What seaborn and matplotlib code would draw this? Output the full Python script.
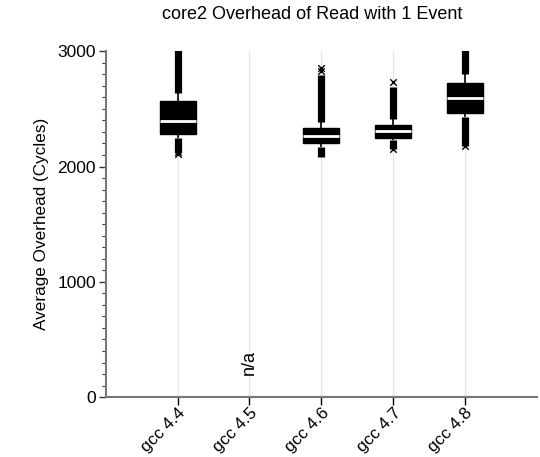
import matplotlib
matplotlib.use("Agg")
import matplotlib.pyplot as plt
import seaborn as sns
import pandas as pd
from matplotlib.ticker import MultipleLocator

categories = ["gcc 4.4", "gcc 4.5", "gcc 4.6", "gcc 4.7", "gcc 4.8"]
# box statistics per compiler (gcc 4.5 has no data -> n/a)
box_cats = ["gcc 4.4", "gcc 4.6", "gcc 4.7", "gcc 4.8"]
whisker_low = [2245, 2170, 2228, 2430]
q1 = [2280, 2203, 2245, 2464]
median = [2392, 2262, 2310, 2595]
q3 = [2565, 2330, 2362, 2727]
whisker_high = [2635, 2385, 2415, 2806]
# dense outlier bands (min / max of the flier clouds)
flier_low_min = [2120, 2085, 2150, 2175]
flier_high_max = [3200, 2790, 2690, 3200]
# isolated extreme outliers
extreme_cats = ["gcc 4.4", "gcc 4.4", "gcc 4.6", "gcc 4.6", "gcc 4.7", "gcc 4.7", "gcc 4.8"]
extreme_vals = [2110, 2130, 2855, 2825, 2735, 2150, 2175]

sns.set_style("white")
plt.rcParams["font.family"] = ["Liberation Sans", "DejaVu Sans"]
plt.rcParams["text.color"] = "black"
plt.rcParams["axes.labelcolor"] = "black"
plt.rcParams["xtick.color"] = "black"
plt.rcParams["ytick.color"] = "black"

rows = []
for c, a, b, m, d, e in zip(box_cats, whisker_low, q1, median, q3, whisker_high):
    for v in (a, b, m, d, e):
        rows.append({"compiler": c, "cycles": v})
df = pd.DataFrame(rows)

fig = plt.figure(figsize=(5.4, 4.57), dpi=100)
ax = fig.add_axes([0.196, 0.131, 0.798, 0.757])

pos = {c: i for i, c in enumerate(categories)}
for i in range(len(categories)):
    ax.axvline(i, color="#e6e6e6", lw=1.0, zorder=0)

# flier bands
fx = [pos[c] for c in box_cats]
ax.vlines(fx, whisker_high, flier_high_max, color="black", lw=5.2, zorder=2)
ax.vlines(fx, flier_low_min, whisker_low, color="black", lw=5.2, zorder=2)
sns.scatterplot(x=[pos[c] for c in extreme_cats], y=extreme_vals, marker="x",
                color="black", s=22, linewidth=1.0, ax=ax, zorder=3)

sns.boxplot(data=df, x="compiler", y="cycles", order=categories, whis=(0, 100),
            width=0.5, showfliers=False, showcaps=False, color="black",
            linecolor="black", ax=ax,
            boxprops=dict(facecolor="black", edgecolor="black", zorder=4),
            medianprops=dict(color="white", lw=2.0, zorder=5),
            whiskerprops=dict(color="black", lw=1.2))

ax.text(pos["gcc 4.5"], 190, "n/a", rotation=90, ha="center", va="bottom",
        fontsize=13)

ax.set_xlim(-1, 5)
ax.set_ylim(0, 3000)
ax.yaxis.set_major_locator(MultipleLocator(1000))
ax.yaxis.set_minor_locator(MultipleLocator(100))
ax.tick_params(axis="y", which="major", left=True, length=5, width=1,
               labelsize=12.5, color="#333333", direction="out", pad=2)
ax.tick_params(axis="y", which="minor", left=True, length=3, width=0.8,
               color="#333333", direction="out")
ax.tick_params(axis="x", bottom=True, length=6, width=1, color="black",
               labelsize=12.3, direction="out", pad=0)
ax.set_xticks(range(len(categories)))
ax.set_xticklabels(categories, rotation=45, ha="right", rotation_mode="anchor")
ax.set_xlabel("")
ax.set_ylabel("Average Overhead (Cycles)", fontsize=12.3, labelpad=6)
ax.set_title("core2 Overhead of Read with 1 Event", fontsize=13, pad=23, x=0.48)

for s in ("top", "right"):
    ax.spines[s].set_visible(False)
for s in ("left", "bottom"):
    ax.spines[s].set_color("#777777")
    ax.spines[s].set_linewidth(1.5)

fig.savefig("out.png", dpi=100)
